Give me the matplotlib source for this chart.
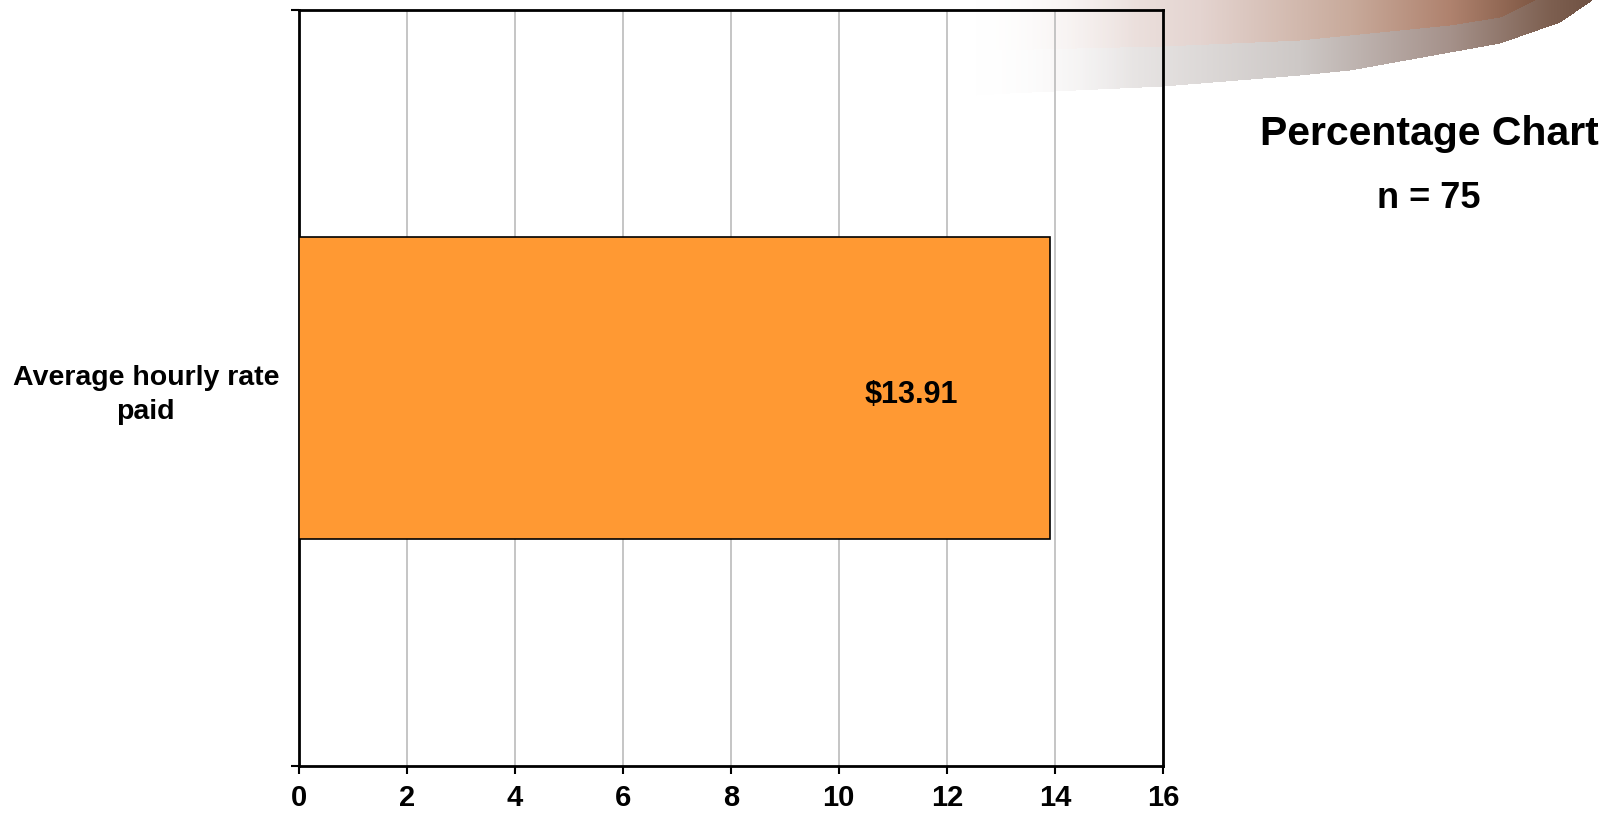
import numpy as np
import matplotlib
matplotlib.use('Agg')
import matplotlib.pyplot as plt

# chart data
categories = ['Average hourly rate\npaid']
values = [13.91]
value_labels = ['$13.91']
x_ticks = [0, 2, 4, 6, 8, 10, 12, 14, 16]
title = 'Percentage Chart'
subtitle = 'n = 75'

plt.rcParams['font.family'] = ['Liberation Sans', 'DejaVu Sans']
plt.rcParams['font.weight'] = 'bold'

W, H = 1613, 818
fig = plt.figure(figsize=(W / 100, H / 100), dpi=100)

# decorative swoosh in the top right corner
def swoosh_layer():
    img = np.zeros((H, W, 4))
    xs = np.arange(W)
    ys = np.arange(H)[:, None]
    # lower (greyish) band edge and upper (brownish) band edge
    low_edge = np.interp(xs, [960, 1010, 1163, 1300, 1350, 1500, 1560, 1592, 1613],
                         [96, 93, 86, 75, 70, 43, 22, 0, -5])
    up_edge = np.interp(xs, [960, 990, 1163, 1300, 1350, 1450, 1500, 1535, 1613],
                        [52, 50, 46, 40, 35, 25, 17, 0, -5])
    grey = np.array([np.interp(xs, [960, 1050, 1300, 1450, 1550, 1613], c)
                     for c in ([255, 245, 205, 165, 125, 105],
                               [255, 243, 200, 145, 95, 75],
                               [255, 243, 198, 138, 80, 60])]).T / 255
    brown = np.array([np.interp(xs, [960, 1200, 1350, 1450, 1530, 1613], c)
                      for c in ([255, 228, 200, 175, 130, 110],
                                [255, 212, 170, 130, 90, 75],
                                [255, 208, 155, 110, 70, 55])]).T / 255
    fade = np.clip((xs - 975) / 160, 0, 1)
    in_low = (ys < low_edge[None, :]) & (xs[None, :] >= 960)
    in_up = ys < up_edge[None, :]
    img[..., :3] = np.where(in_up[..., None], brown[None, :, :], grey[None, :, :])
    img[..., 3] = np.where(in_low, fade[None, :], 0)
    return img

bg = fig.add_axes([0, 0, 1, 1], zorder=0)
bg.imshow(swoosh_layer(), extent=[0, W, H, 0], interpolation='bilinear')
bg.set_xlim(0, W)
bg.set_ylim(H, 0)
bg.axis('off')

left, right, top, bottom = 298.5, 1163, 10, 766
ax = fig.add_axes([left / W, 1 - bottom / H, (right - left) / W, (bottom - top) / H], zorder=1)
ax.patch.set_alpha(0)

ypos = np.arange(len(categories))
bars = ax.barh(ypos, values, height=0.4, color='#FF9933', edgecolor='black', linewidth=1.2, zorder=3)
for b, lab in zip(bars, value_labels):
    ax.annotate(lab, xy=(b.get_width(), b.get_y() + b.get_height() / 2),
                xytext=(-100, -5), textcoords='offset points',
                ha='center', va='center', fontsize=22, fontweight='bold')

ax.set_xlim(x_ticks[0], x_ticks[-1])
ax.set_ylim(-0.5, len(categories) - 0.5)
ax.set_xticks(x_ticks)
ax.set_xticklabels([str(t) for t in x_ticks], fontsize=21, fontweight='bold')
ax.tick_params(axis='x', direction='out', length=6, width=1.5, pad=7)
ax.xaxis.grid(True, color='#c0c0c0', linewidth=1.3, zorder=0)
ax.set_axisbelow(True)

# category boundaries get the tick marks, the label sits in between
ax.set_yticks([-0.5, len(categories) - 0.5])
ax.set_yticklabels([])
ax.set_yticks(ypos, minor=True)
ax.set_yticklabels(categories, minor=True, fontsize=20.5, fontweight='bold')
for t in ax.get_yticklabels(minor=True):
    t.set_multialignment('center')
    t.set_linespacing(1.4)
ax.tick_params(axis='y', which='major', direction='out', length=6, width=1.5)
ax.tick_params(axis='y', which='minor', length=0, pad=14)

for s in ax.spines.values():
    s.set_linewidth(2)
    s.set_color('black')

fig.text(1429 / W, 1 - 134 / H, title, ha='center', va='center', fontsize=29.5, fontweight='bold')
fig.text(1429 / W, 1 - 199 / H, subtitle, ha='center', va='center', fontsize=26, fontweight='bold')

plt.savefig('out.png', dpi=100)
